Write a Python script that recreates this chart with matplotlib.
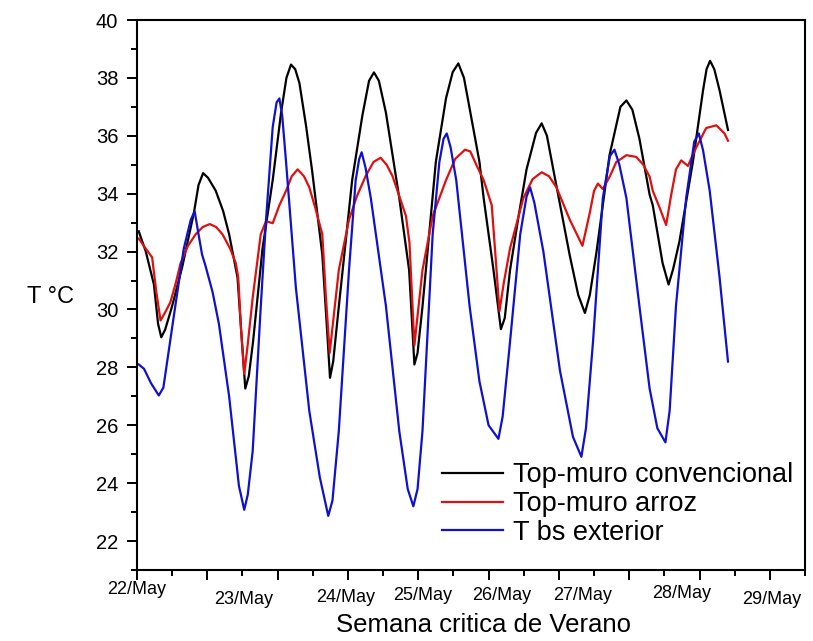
import matplotlib
matplotlib.use("Agg")
import matplotlib.pyplot as plt
from matplotlib.ticker import MultipleLocator, NullFormatter

plt.rcParams["font.family"] = ["Liberation Sans", "DejaVu Sans"]

# hours since 22/May 00:00 and temperature (°C)
conv_h = [0.5, 2.5, 4.8, 6.0, 6.9, 8.0, 10.0, 12.9, 16.2, 17.5, 18.8, 20.2, 22.4, 24.5,
          26.2, 28.6, 29.5, 30.8, 31.8, 33.0, 35.7, 38.6, 41.0, 42.5, 43.8, 45.0, 46.2,
          48.1, 49.8, 52.7, 53.8, 54.9, 55.8, 57.4, 61.2, 64.1, 66.0, 67.4, 68.8, 70.8,
          74.6, 77.4, 78.9, 79.8, 81.2, 85.0, 87.9, 89.8, 91.4, 93.0, 94.6, 97.4, 98.6,
          101.4, 103.5, 104.6, 106.1, 108.5, 110.8, 113.5, 115.1, 116.6, 118.4, 123.1,
          125.5, 127.4, 128.8, 130.7, 134.4, 137.5, 139.2, 140.9, 142.9, 145.8, 146.7,
          149.5, 151.2, 152.5, 154.3, 158.1, 161.0, 162.0, 163.0, 164.2, 165.7, 168.1]
conv_t = [32.7, 32.0, 30.87, 29.5, 29.04, 29.3, 30.12, 31.49, 33.35, 34.3, 34.71, 34.55,
          34.1, 33.4, 32.6, 31.1, 29.5, 27.27, 27.7, 28.88, 32.1, 34.47, 36.82, 38.0,
          38.46, 38.3, 37.82, 36.33, 34.8, 31.9, 29.8, 27.64, 28.2, 30.1, 34.47, 36.7,
          37.9, 38.19, 37.9, 36.8, 33.85, 31.36, 28.1, 28.5, 30.1, 35.1, 37.3, 38.2, 38.5,
          38.0, 36.95, 35.1, 33.85, 31.36, 29.32, 29.7, 31.36, 33.2, 34.84, 36.1, 36.43,
          36.0, 34.84, 31.86, 30.5, 29.88, 30.5, 31.99, 35.33, 37.0, 37.22, 36.9, 35.9,
          33.97, 33.6, 31.6, 30.86, 31.4, 32.36, 35.09, 37.57, 38.3, 38.59, 38.3, 37.57,
          36.2]

arroz_h = [0.5, 2.5, 4.3, 5.5, 6.7, 8.0, 9.5, 11.0, 12.4, 14.5, 16.7, 18.7, 20.7, 22.5,
           24.3, 26.5, 28.1, 28.8, 29.6, 30.5, 31.5, 32.9, 35.2, 36.7, 38.6, 40.5, 42.4,
           44.0, 45.7, 47.5, 49.0, 50.8, 52.7, 53.7, 54.8, 55.8, 57.4, 60.3, 62.5, 65.0,
           67.3, 69.3, 71.0, 72.7, 76.5, 77.5, 78.9, 79.9, 81.2, 84.1, 87.9, 90.5, 93.3,
           94.8, 96.5, 98.6, 100.9, 102.0, 103.1, 104.3, 106.1, 109.9, 112.5, 115.1,
           117.2, 119.3, 123.1, 126.7, 128.8, 130.0, 131.1, 132.5, 134.5, 136.3, 139.2,
           142.0, 144.0, 145.8, 146.7, 148.7, 150.5, 152.0, 153.3, 154.8, 156.7, 159.0,
           161.9, 164.8, 167.1, 168.1]
arroz_t = [32.45, 32.1, 31.8, 30.6, 29.62, 29.9, 30.25, 30.9, 31.6, 32.2, 32.6, 32.85,
           32.95, 32.85, 32.6, 32.1, 31.6, 31.1, 29.3, 27.77, 28.8, 30.4, 32.6, 33.05,
           32.98, 33.6, 34.1, 34.6, 34.84, 34.6, 34.22, 33.47, 32.6, 30.5, 28.5, 29.6,
           31.36, 33.1, 33.9, 34.6, 35.1, 35.24, 35.0, 34.6, 33.23, 32.3, 28.76, 29.9,
           31.36, 33.23, 34.47, 35.2, 35.52, 35.46, 35.0, 34.47, 33.6, 31.8, 29.94, 30.9,
           32.11, 33.85, 34.5, 34.74, 34.6, 34.22, 33.1, 32.2, 33.35, 34.1, 34.35, 34.16,
           34.6, 35.09, 35.33, 35.27, 35.0, 34.59, 34.1, 33.5, 32.92, 34.0, 34.84, 35.15,
           34.96, 35.58, 36.27, 36.36, 36.08, 35.83]

ext_h = [0.5, 2.0, 4.0, 6.2, 7.5, 10.0, 13.3, 15.3, 16.4, 17.5, 18.5, 19.5, 21.5, 23.3,
         26.2, 29.0, 30.5, 31.5, 32.9, 35.2, 36.7, 38.6, 39.7, 40.5, 41.3, 42.4, 45.2,
         49.0, 52.0, 54.4, 55.6, 57.4, 60.3, 62.2, 63.2, 63.9, 65.0, 66.5, 70.8, 74.6,
         77.0, 78.6, 79.8, 81.2, 84.1, 86.0, 87.2, 88.1, 89.2, 90.8, 94.6, 97.4, 100.0,
         102.8, 104.0, 106.1, 109.0, 110.8, 111.8, 113.0, 115.6, 120.3, 124.0, 126.4,
         127.7, 129.7, 132.5, 134.5, 135.8, 137.2, 139.2, 142.9, 145.8, 148.0, 150.3,
         151.5, 153.3, 156.2, 158.5, 159.8, 161.0, 162.9, 165.7, 168.1]
ext_t = [28.1, 27.95, 27.45, 27.03, 27.3, 29.38, 32.1, 33.1, 33.39, 32.6, 31.9, 31.5,
         30.6, 29.5, 27.0, 23.9, 23.08, 23.6, 25.1, 30.1, 33.1, 36.3, 37.15, 37.29, 36.7,
         35.09, 30.74, 26.5, 24.2, 22.87, 23.4, 25.8, 31.36, 34.47, 35.2, 35.43, 34.9,
         33.85, 30.12, 25.8, 23.8, 23.2, 23.8, 25.8, 32.6, 35.09, 35.9, 36.08, 35.6,
         34.47, 30.12, 27.52, 26.0, 25.53, 26.3, 28.88, 32.6, 33.9, 34.22, 33.7, 31.99,
         27.89, 25.6, 24.91, 25.9, 28.88, 33.85, 35.3, 35.52, 35.0, 33.85, 30.12, 27.27,
         25.9, 25.41, 26.5, 30.12, 33.85, 35.8, 36.08, 35.5, 34.1, 31.11, 28.2]

# date labels as drawn by the original (Origin) axis
date_labels = ["22/May", "23/May", "24/May", "25/May", "26/May", "27/May", "28/May", "29/May"]
date_pos = [0.0, 30.2, 59.2, 81.1, 103.8, 126.6, 154.8, 180.4]
date_drop = [20, 29, 28, 26, 25, 26, 24, 29]  # px below the axis line

series_names = ["Top-muro convencional", "Top-muro arroz", "T bs exterior"]
series_colors = ["#000000", "#e01010", "#1010d0"]


def main():
    fig = plt.figure(figsize=(8.13, 6.41), dpi=100)
    ax = fig.add_axes([137 / 813, 1 - 570 / 641, 668 / 813, 550 / 641])

    for h, t, name, color in zip(
        [conv_h, arroz_h, ext_h], [conv_t, arroz_t, ext_t], series_names, series_colors
    ):
        ax.plot(h, t, color=color, linewidth=1.6, label=name,
                solid_joinstyle="round")

    ax.set_xlim(0, 190)
    ax.set_ylim(21, 40)
    ax.xaxis.set_major_locator(MultipleLocator(20))
    ax.xaxis.set_minor_locator(MultipleLocator(10))
    ax.xaxis.set_major_formatter(NullFormatter())
    ax.yaxis.set_major_locator(MultipleLocator(2))
    ax.yaxis.set_minor_locator(MultipleLocator(1))

    ax.tick_params(axis="both", which="major", direction="out", length=7.5, width=1.4)
    ax.tick_params(axis="both", which="minor", direction="out", length=4.5, width=1.4)
    ax.tick_params(axis="y", which="major", labelsize=14.5, pad=6)
    for side in ["left", "right", "top", "bottom"]:
        ax.spines[side].set_linewidth(1.5)

    for lab, pos, drop in zip(date_labels, date_pos, date_drop):
        ax.annotate(
            lab,
            xy=(pos, 0),
            xycoords=("data", "axes fraction"),
            xytext=(0, -drop * 0.72),
            textcoords="offset points",
            ha="center",
            va="center",
            fontsize=13,
            annotation_clip=False,
        )

    fig.text(27 / 813, 1 - 297 / 641, "T °C", ha="left", va="center", fontsize=17)
    fig.text(483 / 813, 1 - 625 / 641, "Semana critica de Verano",
             ha="center", va="center", fontsize=18.5)

    ax.legend(
        loc="center left",
        bbox_to_anchor=((442 - 137) / 668, (570 - 504) / 550),
        frameon=False,
        fontsize=19.5,
        handlelength=2.25,
        handletextpad=0.37,
        labelspacing=0.1,
        borderpad=0,
        borderaxespad=0,
    )

    fig.savefig("out.png", dpi=100)
    plt.close(fig)


if __name__ == "__main__":
    main()
